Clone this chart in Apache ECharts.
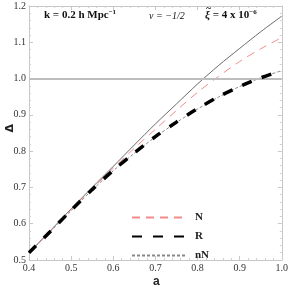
<!DOCTYPE html>
<html><head><meta charset="utf-8">
<script src="https://cdn.jsdelivr.net/npm/echarts@6/dist/echarts.min.js"></script>
<style>html,body{margin:0;padding:0;background:#fff}#c{width:291px;height:290px}</style>
</head><body><div id="c"></div>
<script>
const aVals = [0.4,0.45,0.5,0.55,0.6,0.65,0.7,0.75,0.8,0.85,0.9,0.95,1.0];
const solidVals = [0.52,0.580,0.641,0.700,0.758,0.817,0.875,0.930,0.985,1.036,1.083,1.129,1.172];
const nVals = [0.52,0.579,0.639,0.697,0.753,0.808,0.860,0.912,0.962,1.006,1.047,1.082,1.113];
const rVals = [0.52,0.578,0.637,0.694,0.747,0.795,0.840,0.880,0.917,0.950,0.978,1.002,1.022];
const nnVals = [0.52,0.578,0.636,0.693,0.746,0.794,0.839,0.879,0.916,0.949,0.978,1.002,1.022];
const xTicks = [0.4,0.5,0.6,0.7,0.8,0.9,1.0];
const yTicks = [0.5,0.6,0.7,0.8,0.9,1.0,1.1,1.2];
const refLine = 1.0;

const pair = v => aVals.map((a,i)=>[a,v[i]]);
const serif = 'Liberation Serif';
const axisCommon = {
  axisLine:{show:true,lineStyle:{color:'#c8c8c8',width:1}},
  axisTick:{show:true,inside:true,length:4,lineStyle:{color:'#c8c8c8'}},
  minorTick:{show:true,splitNumber:5,length:2,lineStyle:{color:'#d0d0d0'}},
  splitLine:{show:false}
};
const chart = echarts.init(document.getElementById('c'));
chart.setOption({
  animation:false,
  grid:{left:29,right:4,top:6,bottom:30},
  xAxis:[
    Object.assign({type:'value',min:xTicks[0],max:xTicks[xTicks.length-1],interval:0.1,position:'bottom',
      axisLabel:{fontFamily:serif,fontSize:10,color:'#333',margin:3,formatter:v=>v.toFixed(1)}},axisCommon),
    Object.assign({type:'value',min:0.4,max:1.0,interval:0.1,position:'top',axisLabel:{show:false}},axisCommon)
  ],
  yAxis:[
    Object.assign({type:'value',min:yTicks[0],max:yTicks[yTicks.length-1],interval:0.1,position:'left',
      axisLabel:{fontFamily:serif,fontSize:10,color:'#333',margin:3,formatter:v=>v.toFixed(1)}},axisCommon),
    Object.assign({type:'value',min:0.5,max:1.2,interval:0.1,position:'right',axisLabel:{show:false}},axisCommon)
  ],
  legend:{
    data:['N','R','nN'],orient:'vertical',left:126,top:207,itemWidth:54,itemHeight:6,itemGap:8,
    itemStyle:{opacity:0},
    textStyle:{fontFamily:serif,fontWeight:'bold',fontSize:11,color:'#222',padding:[0,0,0,4]}
  },
  graphic:[
    {type:'text',left:44,top:9,style:{rich:{b:{fontFamily:serif,fontWeight:'bold',fontSize:11,fill:'#111'},s:{fontFamily:serif,fontWeight:'bold',fontSize:7,fill:'#111',verticalAlign:'top',padding:[0,0,5,0]}},text:'{b|k = 0.2 h Mpc}{s|−1}'}},
    {type:'text',left:149,top:11,style:{rich:{i:{fontFamily:serif,fontStyle:'italic',fontSize:10,fill:'#111'}},text:'{i|ν = −1/2}'}},
    {type:'text',left:206,top:3,style:{text:'~',fontFamily:serif,fontWeight:'bold',fontSize:10,fill:'#111'}},
    {type:'text',left:205,top:9,style:{rich:{b:{fontFamily:serif,fontWeight:'bold',fontSize:11,fill:'#111'},i:{fontFamily:serif,fontWeight:'bold',fontStyle:'italic',fontSize:11,fill:'#111'},s:{fontFamily:serif,fontWeight:'bold',fontSize:7,fill:'#111',verticalAlign:'top',padding:[0,0,5,0]}},text:'{i|ξ}{b| = 4 x 10}{s|−6}'}},
    {type:'text',left:5,top:124,rotation:Math.PI/2,style:{text:'Δ',fontFamily:'DejaVu Sans',fontWeight:'bold',fontSize:11,fill:'#222'}},
    {type:'text',left:153,top:276,style:{text:'a',fontFamily:'Liberation Sans',fontWeight:'bold',fontSize:12,fill:'#222'}}
  ],
  series:[
    {name:'ref',type:'line',data:[],silent:true,
      markLine:{silent:true,symbol:'none',label:{show:false},lineStyle:{color:'#bdbdbd',width:2,type:'solid'},data:[{yAxis:refLine}]}},
    {name:'full',type:'line',data:pair(solidVals),smooth:0.3,symbol:'none',lineStyle:{color:'#444',width:0.8},z:3},
    {name:'N',type:'line',data:pair(nVals),smooth:0.3,symbol:'none',lineStyle:{color:'#f28a8a',width:1,type:[8,6]},itemStyle:{color:'#f28a8a'},z:3},
    {name:'nN',type:'line',data:pair(nnVals),smooth:0.3,symbol:'none',lineStyle:{color:'#888',width:1,type:[3,2]},itemStyle:{color:'#888'},z:4},
    {name:'R',type:'line',data:pair(rVals),smooth:0.3,symbol:'none',lineStyle:{color:'#000',width:3.5,type:[10,11]},itemStyle:{color:'#000'},z:5}
  ]
});
</script></body></html>
